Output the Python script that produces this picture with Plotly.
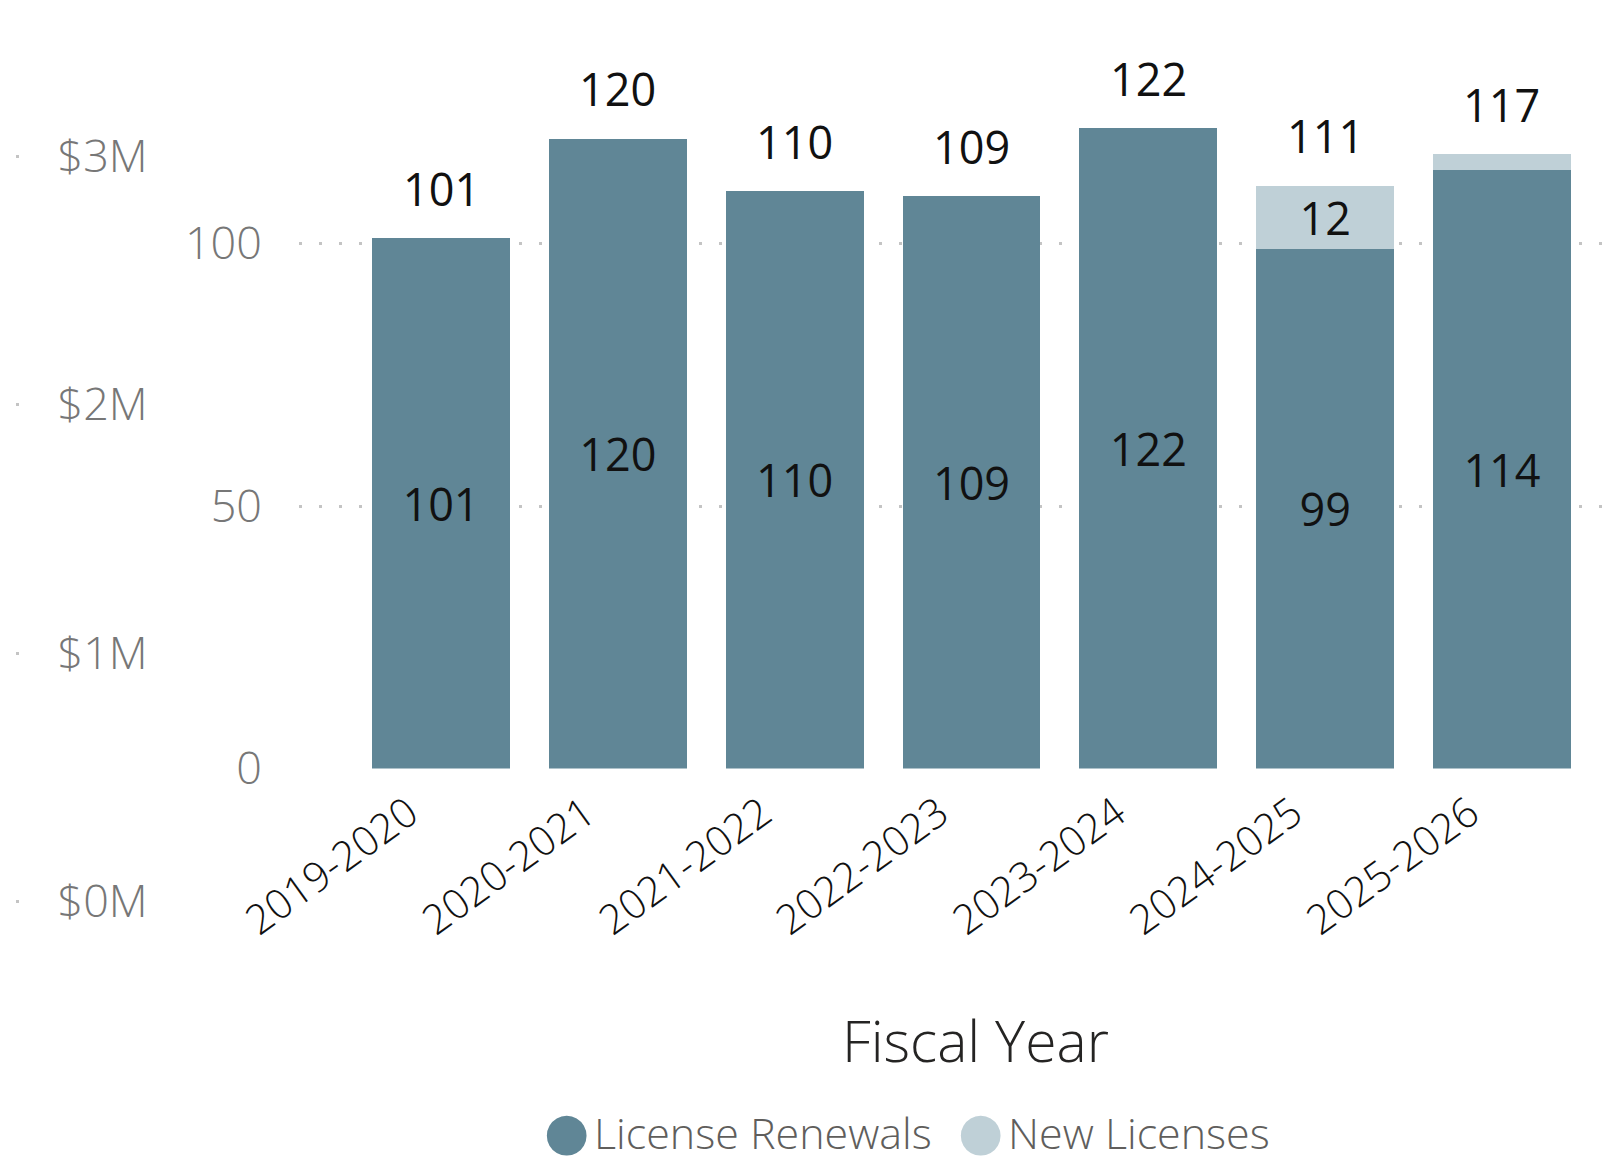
import plotly.graph_objects as go

# ---- data -------------------------------------------------------------
fiscal_years = ["2019-2020", "2020-2021", "2021-2022", "2022-2023",
                "2023-2024", "2024-2025", "2025-2026"]
license_renewals = [101, 120, 110, 109, 122, 99, 114]
new_licenses = [0, 0, 0, 0, 0, 12, 3]
series_names = ["License Renewals", "New Licenses"]

count_ticks = [0, 50, 100]
revenue_ticks = [0, 1, 2, 3]  # millions of dollars
revenue_tick_text = [f"${v}M" for v in revenue_ticks]

totals = [r + n for r, n in zip(license_renewals, new_licenses)]

# ---- styling ----------------------------------------------------------
W, H = 1613, 1169
DARK = "#608696"
LIGHT = "#BFD0D7"
GRID = "#c4c4c4"
FONT = "Open Sans, Noto Sans, sans-serif"
LABEL_SIZE = 45
PX_PER_UNIT = 5.25
ZERO_Y = 768.5


def fx(px):
    return px / W


def fy(py):
    return 1 - py / H


renewal_text = [str(v) for v in license_renewals]
new_text = [str(v) if v >= 10 else "" for v in new_licenses]

fig = go.Figure()
fig.add_trace(go.Bar(
    x=fiscal_years, y=license_renewals, name=series_names[0],
    marker=dict(color=DARK, line=dict(width=0)),
    text=renewal_text, textposition="inside", insidetextanchor="middle",
    textangle=0,
    textfont=dict(family=FONT, size=LABEL_SIZE, color="#111111"),
    showlegend=False, hoverinfo="skip",
))
fig.add_trace(go.Bar(
    x=fiscal_years, y=new_licenses, name=series_names[1],
    marker=dict(color=LIGHT, line=dict(width=0)),
    text=new_text, textposition="inside", insidetextanchor="middle",
    textangle=0,
    textfont=dict(family=FONT, size=LABEL_SIZE, color="#111111"),
    showlegend=False, hoverinfo="skip",
))
# placeholder trace so the revenue axis pair is drawn
fig.add_trace(go.Scatter(x=[None], y=[None], xaxis="x2", yaxis="y2",
                         showlegend=False, hoverinfo="skip"))

# total labels above each stack
for cat, tot in zip(fiscal_years, totals):
    fig.add_annotation(
        x=cat, y=tot, xref="x", yref="y", text=str(tot), showarrow=False,
        yanchor="middle", yshift=50,
        font=dict(family=FONT, size=LABEL_SIZE, color="#111111"),
    )

x_left, x_right = 299, 1605
cat_step = 176.83
first_center = 441
x_lo = -(first_center - x_left) / cat_step
x_hi = x_lo + (x_right - x_left) / cat_step
top_px = 30

fig.update_layout(
    width=W, height=H,
    margin=dict(l=0, r=0, t=0, b=0, autoexpand=False),
    paper_bgcolor="white", plot_bgcolor="white",
    barmode="stack", bargap=0.22,
    uniformtext=dict(minsize=LABEL_SIZE, mode="show"),
    xaxis=dict(
        domain=[fx(x_left), fx(x_right)], range=[x_lo, x_hi],
        type="category", tickangle=-36, ticks="",
        tickfont=dict(family=FONT, size=41, color="#111111", weight=300),
        ticklabelshift=-32, ticklabelstandoff=12,
        showgrid=False, zeroline=False, showline=False, anchor="y",
        automargin=False,
    ),
    yaxis=dict(
        domain=[fy(ZERO_Y), fy(top_px)],
        range=[0, (ZERO_Y - top_px) / PX_PER_UNIT],
        tickvals=count_ticks, ticks="",
        tickfont=dict(family=FONT, size=LABEL_SIZE, color="#777777", weight=300),
        ticklabelstandoff=36,
        showgrid=True, gridcolor=GRID, gridwidth=3, griddash="3px,17px",
        zeroline=False, showline=False, anchor="x", automargin=False,
    ),
    xaxis2=dict(
        domain=[fx(15.5), fx(18.5)], range=[0, 1], anchor="y2",
        showgrid=False, zeroline=False, showline=False,
        showticklabels=False, ticks="", automargin=False,
    ),
    yaxis2=dict(
        domain=[fy(926.35), fy(131.15)], range=[-0.1, 3.1],
        anchor="x2", side="right",
        tickvals=revenue_ticks, ticktext=revenue_tick_text, ticks="",
        tickfont=dict(family=FONT, size=LABEL_SIZE, color="#777777", weight=300),
        ticklabelstandoff=38,
        showgrid=True, gridcolor=GRID, gridwidth=3,
        zeroline=False, showline=False, automargin=False,
    ),
)

# axis title
fig.add_annotation(
    x=fx(975), y=fy(1040), xref="paper", yref="paper", text="Fiscal Year",
    showarrow=False, xanchor="center", yanchor="middle",
    font=dict(family=FONT, size=57, color="#252423", weight=300),
)

# legend row: a round swatch followed by the series name
legend_items = [
    (series_names[0], DARK, 566, 592),
    (series_names[1], LIGHT, 980, 1006),
]
for name, color, swatch_x, text_x in legend_items:
    fig.add_annotation(
        x=fx(swatch_x), y=fy(1131), xref="paper", yref="paper",
        text="\u25CF", showarrow=False, xanchor="center", yanchor="middle",
        font=dict(family="DejaVu Sans", size=52, color=color),
    )
    fig.add_annotation(
        x=fx(text_x), y=fy(1132), xref="paper", yref="paper",
        text=name, showarrow=False, xanchor="left", yanchor="middle",
        font=dict(family=FONT, size=43, color="#605E5C", weight=300),
    )

fig.write_html("out.html")
